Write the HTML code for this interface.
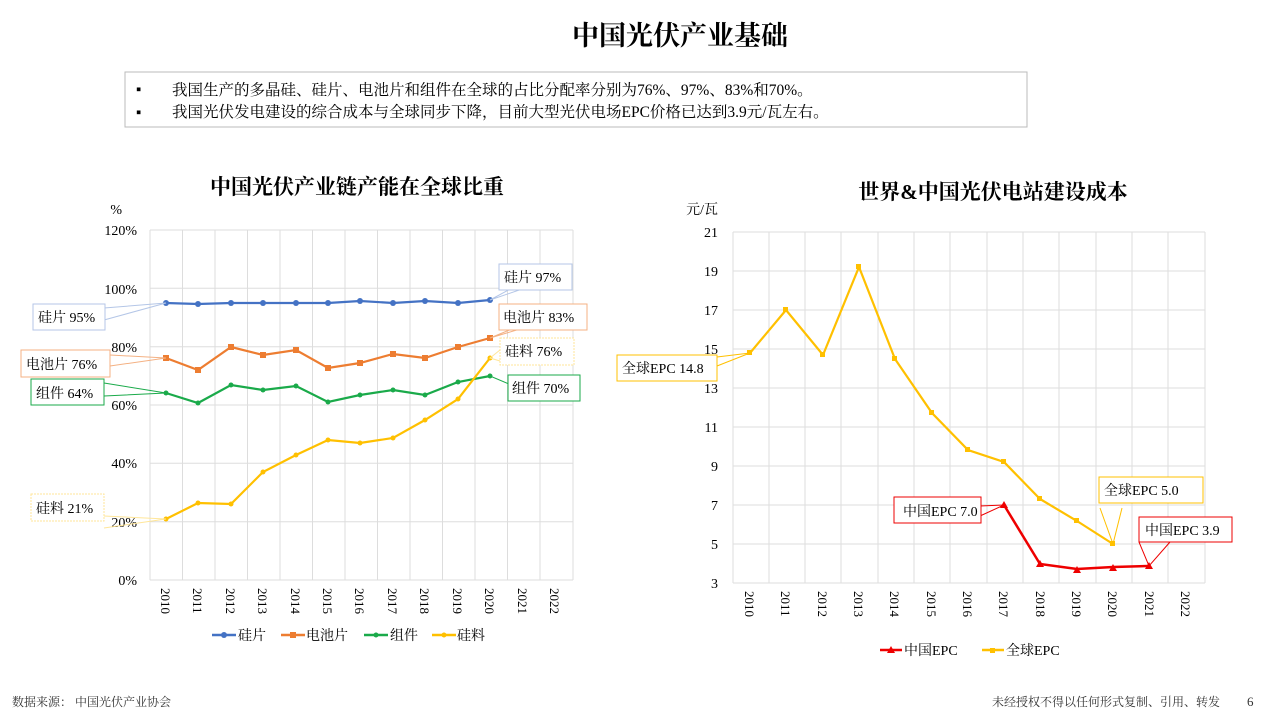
<!DOCTYPE html>
<html><head><meta charset="utf-8"><style>
body{margin:0;background:#fff;}
svg{display:block;font-family:"Liberation Serif","Noto Serif CJK SC",serif;}
</style></head><body>
<svg width="1275" height="716" viewBox="0 0 1275 716" xmlns="http://www.w3.org/2000/svg">
<text x="680" y="45" font-size="27" font-weight="bold" text-anchor="middle">中国光伏产业基础</text>
<rect x="125" y="72" width="902" height="55" fill="#fff" stroke="#bbb"/>
<text x="136" y="94" font-size="15">▪</text><text x="136" y="117" font-size="15">▪</text>
<text x="172" y="95" font-size="15.5">我国生产的多晶硅、硅片、电池片和组件在全球的占比分配率分别为76%、97%、83%和70%。</text>
<text x="172" y="117" font-size="15.5">我国光伏发电建设的综合成本与全球同步下降，目前大型光伏电场EPC价格已达到3.9元/瓦左右。</text>

<text x="357" y="194" font-size="21" font-weight="bold" text-anchor="middle">中国光伏产业链产能在全球比重</text>
<text x="993" y="199" font-size="21" font-weight="bold" text-anchor="middle">世界&amp;中国光伏电站建设成本</text>

<!-- LEFT CHART -->
<g stroke="#ddd" stroke-width="1">
<line x1="150" y1="230" x2="573" y2="230"/><line x1="150" y1="288.3" x2="573" y2="288.3"/><line x1="150" y1="346.7" x2="573" y2="346.7"/><line x1="150" y1="405" x2="573" y2="405"/><line x1="150" y1="463.3" x2="573" y2="463.3"/><line x1="150" y1="521.7" x2="573" y2="521.7"/>
<line x1="182.5" y1="230" x2="182.5" y2="580"/><line x1="215" y1="230" x2="215" y2="580"/><line x1="247.5" y1="230" x2="247.5" y2="580"/><line x1="280" y1="230" x2="280" y2="580"/><line x1="312.5" y1="230" x2="312.5" y2="580"/><line x1="345" y1="230" x2="345" y2="580"/><line x1="377.5" y1="230" x2="377.5" y2="580"/><line x1="410" y1="230" x2="410" y2="580"/><line x1="442.5" y1="230" x2="442.5" y2="580"/><line x1="475" y1="230" x2="475" y2="580"/><line x1="507.5" y1="230" x2="507.5" y2="580"/><line x1="540" y1="230" x2="540" y2="580"/><line x1="573" y1="230" x2="573" y2="580"/>
<line x1="150" y1="230" x2="150" y2="580"/><line x1="150" y1="580" x2="573" y2="580"/>
</g>
<g font-size="14" text-anchor="end">
<text x="122" y="214">%</text>
<text x="137" y="235">120%</text><text x="137" y="294">100%</text><text x="137" y="352">80%</text><text x="137" y="410">60%</text><text x="137" y="468">40%</text><text x="137" y="527">20%</text><text x="137" y="585">0%</text>
</g>
<g font-size="13">
<text transform="translate(161,588) rotate(90)">2010</text><text transform="translate(193,588) rotate(90)">2011</text><text transform="translate(226,588) rotate(90)">2012</text><text transform="translate(258,588) rotate(90)">2013</text><text transform="translate(291,588) rotate(90)">2014</text><text transform="translate(323,588) rotate(90)">2015</text><text transform="translate(355,588) rotate(90)">2016</text><text transform="translate(388,588) rotate(90)">2017</text><text transform="translate(420,588) rotate(90)">2018</text><text transform="translate(453,588) rotate(90)">2019</text><text transform="translate(485,588) rotate(90)">2020</text><text transform="translate(518,588) rotate(90)">2021</text><text transform="translate(550,588) rotate(90)">2022</text>
</g>
<polyline fill="none" stroke="#4472c4" stroke-width="2.2" points="166,303 198,304 231,303 263,303 296,303 328,303 360,301 393,303 425,301 458,303 490,300"/>
<polyline fill="none" stroke="#ed7d31" stroke-width="2.2" points="166,358 198,370 231,347 263,355 296,350 328,368 360,363 393,354 425,358 458,347 490,338"/>
<polyline fill="none" stroke="#1aaa4a" stroke-width="2.2" points="166,393 198,403 231,385 263,390 296,386 328,402 360,395 393,390 425,395 458,382 490,376"/>
<polyline fill="none" stroke="#ffc000" stroke-width="2.2" points="166,519 198,503 231,504 263,472 296,455 328,440 360,443 393,438 425,420 458,399 490,358"/>
<g fill="#4472c4"><circle cx="166" cy="303" r="3"/><circle cx="198" cy="304" r="3"/><circle cx="231" cy="303" r="3"/><circle cx="263" cy="303" r="3"/><circle cx="296" cy="303" r="3"/><circle cx="328" cy="303" r="3"/><circle cx="360" cy="301" r="3"/><circle cx="393" cy="303" r="3"/><circle cx="425" cy="301" r="3"/><circle cx="458" cy="303" r="3"/><circle cx="490" cy="300" r="3"/></g>
<g fill="#ed7d31"><rect x="163" y="355" width="6" height="6"/><rect x="195" y="367" width="6" height="6"/><rect x="228" y="344" width="6" height="6"/><rect x="260" y="352" width="6" height="6"/><rect x="293" y="347" width="6" height="6"/><rect x="325" y="365" width="6" height="6"/><rect x="357" y="360" width="6" height="6"/><rect x="390" y="351" width="6" height="6"/><rect x="422" y="355" width="6" height="6"/><rect x="455" y="344" width="6" height="6"/><rect x="487" y="335" width="6" height="6"/></g>
<g fill="#1aaa4a"><circle cx="166" cy="393" r="2.5"/><circle cx="198" cy="403" r="2.5"/><circle cx="231" cy="385" r="2.5"/><circle cx="263" cy="390" r="2.5"/><circle cx="296" cy="386" r="2.5"/><circle cx="328" cy="402" r="2.5"/><circle cx="360" cy="395" r="2.5"/><circle cx="393" cy="390" r="2.5"/><circle cx="425" cy="395" r="2.5"/><circle cx="458" cy="382" r="2.5"/><circle cx="490" cy="376" r="2.5"/></g>
<g fill="#ffc000"><circle cx="166" cy="519" r="2.5"/><circle cx="198" cy="503" r="2.5"/><circle cx="231" cy="504" r="2.5"/><circle cx="263" cy="472" r="2.5"/><circle cx="296" cy="455" r="2.5"/><circle cx="328" cy="440" r="2.5"/><circle cx="360" cy="443" r="2.5"/><circle cx="393" cy="438" r="2.5"/><circle cx="425" cy="420" r="2.5"/><circle cx="458" cy="399" r="2.5"/><circle cx="490" cy="358" r="2.5"/></g>
<!-- left labels -->
<g font-size="14" stroke-width="1" fill="#fff">
<polyline points="104,308 166,303 104,320" fill="none" stroke="#b4c6e7"/>
<rect x="33" y="304" width="72" height="26" stroke="#b4c6e7"/>
<polyline points="110,355 166,358 110,366" fill="none" stroke="#f4b183"/>
<rect x="21" y="350" width="89" height="27" stroke="#f4b183"/>
<polyline points="104,383 166,393 104,396" fill="none" stroke="#1aaa4a"/>
<rect x="31" y="379" width="73" height="26" stroke="#1aaa4a"/>
<polyline points="104,516 166,519 104,528" fill="none" stroke="#ffe699"/>
<rect x="31" y="494" width="73" height="27" stroke="#ffe699" stroke-dasharray="2,1"/>
<polyline points="512,288 490,300 528,287" fill="none" stroke="#b4c6e7"/>
<rect x="499" y="264" width="73" height="26" stroke="#b4c6e7"/>
<polyline points="512,329 490,338 520,329" fill="none" stroke="#f4b183"/>
<rect x="499" y="304" width="88" height="26" stroke="#f4b183"/>
<polyline points="500,350 490,358 500,361" fill="none" stroke="#ffe699"/>
<rect x="500" y="338" width="74" height="27" stroke="#ffe699" stroke-dasharray="2,1"/>
<polyline points="490,376 509,384" fill="none" stroke="#1aaa4a"/>
<rect x="508" y="375" width="72" height="26" stroke="#1aaa4a"/>
</g>
<g font-size="14" fill="#000">
<text x="38" y="322">硅片 95%</text><text x="26" y="369">电池片 76%</text><text x="36" y="398">组件 64%</text><text x="36" y="513">硅料 21%</text>
<text x="504" y="282">硅片 97%</text><text x="503" y="322">电池片 83%</text><text x="505" y="356">硅料 76%</text><text x="512" y="393">组件 70%</text>
</g>
<!-- left legend -->
<g font-size="14">
<line x1="212" y1="635" x2="236" y2="635" stroke="#4472c4" stroke-width="2.5"/><circle cx="224" cy="635" r="3" fill="#4472c4"/><text x="238" y="640">硅片</text>
<line x1="281" y1="635" x2="305" y2="635" stroke="#ed7d31" stroke-width="2.5"/><rect x="290" y="632" width="6" height="6" fill="#ed7d31"/><text x="306" y="640">电池片</text>
<line x1="364" y1="635" x2="388" y2="635" stroke="#1aaa4a" stroke-width="2.5"/><circle cx="376" cy="635" r="2.5" fill="#1aaa4a"/><text x="390" y="640">组件</text>
<line x1="432" y1="635" x2="456" y2="635" stroke="#ffc000" stroke-width="2.5"/><circle cx="444" cy="635" r="2.5" fill="#ffc000"/><text x="457" y="640">硅料</text>
</g>

<!-- RIGHT CHART -->
<g stroke="#ddd" stroke-width="1">
<line x1="733" y1="232" x2="1205" y2="232"/><line x1="733" y1="271" x2="1205" y2="271"/><line x1="733" y1="310" x2="1205" y2="310"/><line x1="733" y1="349" x2="1205" y2="349"/><line x1="733" y1="388" x2="1205" y2="388"/><line x1="733" y1="427" x2="1205" y2="427"/><line x1="733" y1="466" x2="1205" y2="466"/><line x1="733" y1="505" x2="1205" y2="505"/><line x1="733" y1="544" x2="1205" y2="544"/>
<line x1="769" y1="232" x2="769" y2="583"/><line x1="805" y1="232" x2="805" y2="583"/><line x1="841" y1="232" x2="841" y2="583"/><line x1="878" y1="232" x2="878" y2="583"/><line x1="914" y1="232" x2="914" y2="583"/><line x1="950" y1="232" x2="950" y2="583"/><line x1="987" y1="232" x2="987" y2="583"/><line x1="1023" y1="232" x2="1023" y2="583"/><line x1="1059" y1="232" x2="1059" y2="583"/><line x1="1096" y1="232" x2="1096" y2="583"/><line x1="1132" y1="232" x2="1132" y2="583"/><line x1="1168" y1="232" x2="1168" y2="583"/><line x1="1205" y1="232" x2="1205" y2="583"/>
<line x1="733" y1="232" x2="733" y2="583"/><line x1="733" y1="583" x2="1205" y2="583"/>
</g>
<g font-size="14" text-anchor="end">
<text x="718" y="214">元/瓦</text>
<text x="718" y="237">21</text><text x="718" y="276">19</text><text x="718" y="315">17</text><text x="718" y="354">15</text><text x="718" y="393">13</text><text x="718" y="432">11</text><text x="718" y="471">9</text><text x="718" y="510">7</text><text x="718" y="549">5</text><text x="718" y="588">3</text>
</g>
<g font-size="13">
<text transform="translate(745,591) rotate(90)">2010</text><text transform="translate(781,591) rotate(90)">2011</text><text transform="translate(818,591) rotate(90)">2012</text><text transform="translate(854,591) rotate(90)">2013</text><text transform="translate(890,591) rotate(90)">2014</text><text transform="translate(927,591) rotate(90)">2015</text><text transform="translate(963,591) rotate(90)">2016</text><text transform="translate(999,591) rotate(90)">2017</text><text transform="translate(1036,591) rotate(90)">2018</text><text transform="translate(1072,591) rotate(90)">2019</text><text transform="translate(1108,591) rotate(90)">2020</text><text transform="translate(1145,591) rotate(90)">2021</text><text transform="translate(1181,591) rotate(90)">2022</text>
</g>
<polyline fill="none" stroke="#ffc000" stroke-width="2.2" points="750,353 786,310 823,355 859,267 895,359 932,413 968,450 1004,462 1040,499 1077,521 1113,544"/>
<g fill="#ffc000"><rect x="747" y="350" width="5" height="5"/><rect x="783" y="307" width="5" height="5"/><rect x="820" y="352" width="5" height="5"/><rect x="856" y="264" width="5" height="5"/><rect x="892" y="356" width="5" height="5"/><rect x="929" y="410" width="5" height="5"/><rect x="965" y="447" width="5" height="5"/><rect x="1001" y="459" width="5" height="5"/><rect x="1037" y="496" width="5" height="5"/><rect x="1074" y="518" width="5" height="5"/><rect x="1110" y="541" width="5" height="5"/></g>
<polyline fill="none" stroke="#e00" stroke-width="2.5" points="1004,505 1040,564 1077,569 1113,567 1149,566"/>
<g fill="#e00"><path d="M1004,501 l4,7 h-8z"/><path d="M1040,560 l4,7 h-8z"/><path d="M1077,566 l4,7 h-8z"/><path d="M1113,564 l4,7 h-8z"/><path d="M1149,562 l4,7 h-8z"/></g>
<!-- right labels -->
<g fill="#fff" stroke-width="1">
<polyline points="717,357 750,353 717,366" fill="none" stroke="#ffc000"/>
<rect x="617" y="355" width="100" height="26" stroke="#ffc000"/>
<polyline points="1100,508 1113,544 1122,508" fill="none" stroke="#ffc000"/>
<rect x="1099" y="477" width="104" height="26" stroke="#ffc000"/>
<polyline points="980,506 1004,505 980,516" fill="none" stroke="#e00"/>
<rect x="894" y="497" width="87" height="26" stroke="#e00"/>
<polyline points="1139,542 1149,566 1170,542" fill="none" stroke="#e00"/>
<rect x="1139" y="517" width="93" height="25" stroke="#e00"/>
</g>
<g font-size="14">
<text x="622" y="373">全球EPC 14.8</text>
<text x="1104" y="495">全球EPC 5.0</text>
<text x="903" y="516">中国EPC 7.0</text>
<text x="1145" y="535">中国EPC 3.9</text>
</g>
<g font-size="14">
<line x1="880" y1="650" x2="902" y2="650" stroke="#e00" stroke-width="2.5"/><path d="M891,646 l4,7 h-8z" fill="#e00"/><text x="904" y="655">中国EPC</text>
<line x1="982" y1="650" x2="1004" y2="650" stroke="#ffc000" stroke-width="2.5"/><rect x="990" y="648" width="5" height="5" fill="#ffc000"/><text x="1006" y="655">全球EPC</text>
</g>

<text x="12" y="706" font-size="12" fill="#333">数据来源：  中国光伏产业协会</text>
<text x="1220" y="706" font-size="12" fill="#333" text-anchor="end">未经授权不得以任何形式复制、引用、转发</text>
<text x="1247" y="706" font-size="13" fill="#333">6</text>
</svg>
</body></html>
